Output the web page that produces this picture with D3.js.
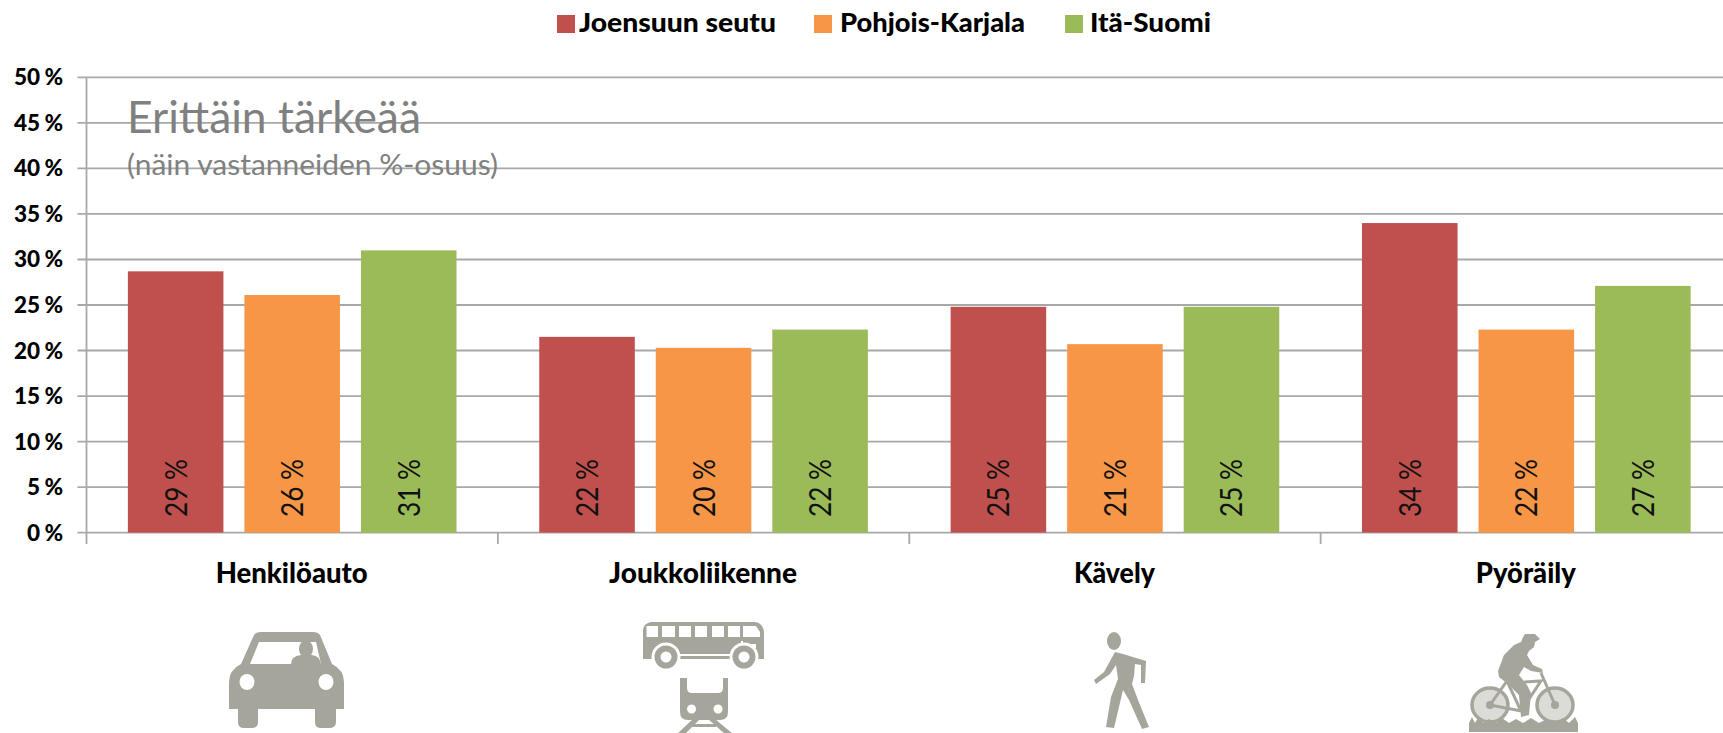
<!DOCTYPE html>
<html><head><meta charset="utf-8"><style>html,body{margin:0;background:#fff;overflow:hidden}svg{display:block}</style>
<script src="https://cdn.jsdelivr.net/npm/d3@7"></script></head><body><svg id="c" width="1723" height="733"></svg>
<script>
const categories=["Henkilöauto","Joukkoliikenne","Kävely","Pyöräily"];
const seriesNames=["Joensuun seutu","Pohjois-Karjala","Itä-Suomi"];
const seriesColors=["#C0504D","#F79646","#9BBB59"];
const joensuu=[28.7,21.5,24.8,34.0];
const pohjois=[26.1,20.3,20.7,22.3];
const itaSuomi=[31.0,22.3,24.8,27.1];
const joensuuLabels=["29 %","22 %","25 %","34 %"];
const pohjoisLabels=["26 %","20 %","21 %","22 %"];
const itaLabels=["31 %","22 %","25 %","27 %"];
const yTicks=[0,5,10,15,20,25,30,35,40,45,50];
const values=[joensuu,pohjois,itaSuomi], labels=[joensuuLabels,pohjoisLabels,itaLabels];
const FONT="Lato, 'Open Sans', sans-serif";
const svg=d3.select("#c");
const y=d3.scaleLinear().domain([0,50]).range([532.6,77.4]);
const x0=d3.scaleBand().domain(categories).range([86.5,1732]);
const x1=d3.scaleBand().domain([0,1,2]).range([0,x0.bandwidth()]).paddingInner(0.18).paddingOuter(0.355);
const GRID="#A8A8A8";
// grid
svg.append("g").selectAll("line").data(yTicks).join("line")
 .attr("x1",77.5).attr("x2",1723).attr("y1",d=>y(d)).attr("y2",d=>y(d)).attr("stroke",GRID).attr("stroke-width",1.8);
svg.append("line").attr("x1",86.5).attr("x2",86.5).attr("y1",77.4).attr("y2",544).attr("stroke",GRID).attr("stroke-width",1.8);
svg.append("g").selectAll("line").data(categories.slice(1)).join("line")
 .attr("x1",d=>x0(d)).attr("x2",d=>x0(d)).attr("y1",533).attr("y2",544).attr("stroke",GRID).attr("stroke-width",1.8);
// tick labels
svg.append("g").selectAll("text").data(yTicks).join("text")
 .attr("x",63).attr("y",d=>y(d)+8).attr("text-anchor","end")
 .attr("font-family",FONT).attr("font-weight",900).attr("font-size",22.5).attr("fill","#000").attr("word-spacing",-1)
 .text(d=>d+" %");
// title over gridlines
svg.append("text").attr("x",127).attr("y",133).attr("font-family",FONT).attr("font-size",45).attr("fill","#808080")
 .attr("textLength",294).attr("lengthAdjust","spacingAndGlyphs").text("Erittäin tärkeää");
svg.append("text").attr("x",127).attr("y",175).attr("font-family",FONT).attr("font-size",29).attr("fill","#808080")
 .attr("textLength",371).attr("lengthAdjust","spacingAndGlyphs").text("(näin vastanneiden %-osuus)");
// bars
values.forEach((vals,s)=>{
 const g=svg.append("g");
 g.selectAll("rect").data(vals).join("rect")
  .attr("x",(d,i)=>x0(categories[i])+x1(s)).attr("width",x1.bandwidth())
  .attr("y",d=>y(d)).attr("height",d=>y(0)-y(d)).attr("fill",seriesColors[s]);
 g.selectAll("text").data(labels[s]).join("text")
  .attr("transform",(d,i)=>`translate(${x0(categories[i])+x1(s)+x1.bandwidth()/2+11},517) rotate(-90)`)
  .attr("font-family",FONT).attr("font-size",30).attr("fill","#111")
  .attr("textLength",58).attr("lengthAdjust","spacingAndGlyphs")
  .text(d=>d);
});
// category labels
const categoryWidths=[152,188,81,100];
svg.append("g").selectAll("text").data(categories).join("text")
 .attr("x",d=>x0(d)+x0.bandwidth()/2-0.5).attr("y",583).attr("text-anchor","middle")
 .attr("font-family",FONT).attr("font-weight",900).attr("font-size",28).attr("fill","#000")
 .attr("textLength",(d,i)=>categoryWidths[i]).attr("lengthAdjust","spacingAndGlyphs").text(d=>d);
// legend
const legendX=[557,814,1065], legendTX=[579,840,1090], legendW=[197,185,121];
const lg=svg.append("g");
lg.selectAll("rect").data(seriesNames).join("rect").attr("x",(d,i)=>legendX[i]).attr("y",15).attr("width",18).attr("height",18)
 .attr("fill",(d,i)=>seriesColors[i]);
lg.selectAll("text").data(seriesNames).join("text").attr("x",(d,i)=>legendTX[i]).attr("y",32)
 .attr("font-family",FONT).attr("font-weight",900).attr("font-size",27).attr("fill","#000")
 .attr("textLength",(d,i)=>legendW[i]).attr("lengthAdjust","spacingAndGlyphs").text(d=>d);
// icons
const IC="#A6A59B";
function icon(tx,ty,s){return svg.append("g").attr("transform",`translate(${tx},${ty}) scale(${s})`).attr("fill",IC);}
// car
const car=icon(229,632,1);
car.append("path").attr("fill-rule","evenodd").attr("d","M25 3 Q27 0 32 0 H84 Q89 0 91 3 L103 32 Q115 38 115 50 V77 H107 V90 Q107 96 100 96 H92 Q86 96 86 90 V77 H29 V90 Q29 96 23 96 H15 Q9 96 9 90 V77 H0 V50 Q0 38 12 32 Z M30 10 L21 32 H92 L87 10 Z");
car.append("ellipse").attr("cx",18).attr("cy",50).attr("rx",7.5).attr("ry",8).attr("fill","#fff");
car.append("ellipse").attr("cx",97).attr("cy",50).attr("rx",7.5).attr("ry",8).attr("fill","#fff");
car.append("ellipse").attr("cx",77).attr("cy",17).attr("rx",7).attr("ry",9);
car.append("path").attr("d","M62 32 Q62 24 72 23 H83 Q91 24 92 32 Z");
// bus
const bus=icon(643,622,1);
bus.append("path").attr("fill-rule","evenodd").attr("d","M8 0 H112 Q120 1 121 10 V37 H0 V8 Q1 1 8 0 Z M3.5 4 V15 H15 V4 Z M19 4 V15 H32 V4 Z M36 4 V15 H48 V4 Z M52 4 V15 H64 V4 Z M69 4 V15 H81 V4 Z M85 4 V15 H97 V4 Z M100 4 V15 H117 V10 L113 4 Z M98 19 V33 H100 V19 Z M105 22 V26 H113 V22 Z M37 32 V34 H88 V32 Z");
[23,101].forEach(c=>{
 bus.append("circle").attr("cx",c).attr("cy",35).attr("r",14.5).attr("fill","#fff");
 bus.append("circle").attr("cx",c).attr("cy",35).attr("r",8.5).attr("fill","#fff").attr("stroke",IC).attr("stroke-width",6);
});
// train
const train=icon(680,678,1);
train.append("path").attr("fill-rule","evenodd").attr("d","M0 0 H7 V10 Q7 15 12 15 H38 Q43 15 43 10 V0 H48 V34 Q48 42 40 42 H8 Q0 42 0 34 Z M11.5 26.5 A4.5 4.5 0 1 0 11.6 26.5 Z M38 26.5 A4.5 4.5 0 1 0 38.1 26.5 Z");
train.append("path").attr("d","M13 41 H20 L5 56 H-3 Z M28 41 H35 L53 56 H45 Z M12 46 H36 V49 H12 Z");
// walker
const walk=icon(1094,632,1);
walk.append("ellipse").attr("cx",20).attr("cy",9).attr("rx",7).attr("ry",9);
walk.append("path").attr("d","M21 20 L29 22 L52 29 L51 51 H47 L47 33 L41 32 L40 44 L38 52 L44 68 L55 95 L48 97 L35 68 L29 58 L20 96 L12 95 L17 65 L24 47 L22 33 L16 42 L2 52 L0 48 L10 40 Z");
// cyclist
const cyc=icon(1469,633,1);
cyc.append("path").attr("d","M56 1 L66 1 L71 6 L66 9 L65 14 L60 18 L58 22 L64 32 L73 36 L74 40 L62 38 L55 34 L50 42 L58 52 L62 60 L60 82 L52 84 L50 62 L40 52 L30 44 L29 38 L35 22 L45 12 L52 9 L54 4 Z");
[[21,72],[86,72]].forEach(c=>{
 cyc.append("ellipse").attr("cx",c[0]).attr("cy",c[1]).attr("rx",18).attr("ry",17).attr("fill",IC).attr("fill-opacity",.4).attr("stroke",IC).attr("stroke-width",3.5);
 cyc.append("circle").attr("cx",c[0]).attr("cy",c[1]).attr("r",4);
});
cyc.append("path").attr("fill","none").attr("stroke",IC).attr("stroke-width",3).attr("d","M21 72 L38 48 L52 78 Z M38 50 L72 48 L52 78 M72 40 L86 72");
cyc.append("path").attr("d","M0 90 L3 84 L6 90 L10 83 L14 90 L20 86 L27 90 L33 85 L40 90 L47 86 L54 90 L62 85 L70 90 L78 86 L86 90 L94 85 L100 90 L106 84 L109 90 V99 H0 Z");
</script></body></html>
